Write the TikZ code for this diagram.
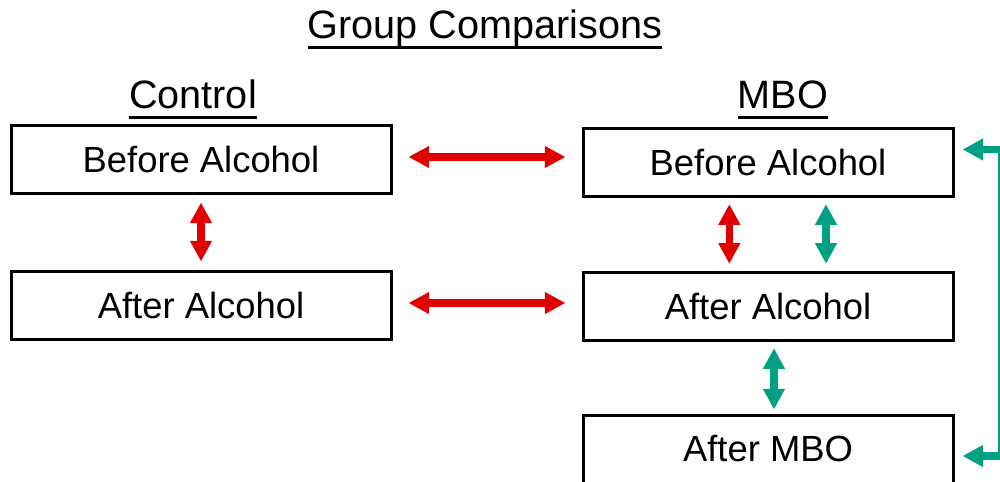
\documentclass[tikz,border=0pt]{standalone}
\usepackage{fontspec}
\setmainfont{Liberation Sans}
\usepackage{xcolor}
\definecolor{arrred}{HTML}{E00000}
\definecolor{arrteal}{HTML}{00A084}
\usepackage{tikz}
\usetikzlibrary{arrows.meta,positioning,calc}
\newcommand{\hdr}[1]{\setbox0\hbox{#1}\rlap{\rule[-7.9pt]{\wd0}{2.25pt}}\box0}
\tikzset{
  >={Triangle[length=15.5pt,width=15.5pt]},
  stage/.style  ={draw=black,line width=2.25pt,fill=white,
                  font=\fontsize{27.3}{32}\selectfont,
                  minimum height=51pt,align=center,inner sep=0pt},
  head/.style   ={font=\fontsize{29.7}{34}\selectfont,anchor=base,inner sep=0pt},
  redarr/.style ={<->,draw=arrred,line width=5.5pt},
  tealarr/.style={<->,draw=arrteal,line width=5.5pt},
}

\begin{document}
\begin{tikzpicture}[x=0.75pt,y=-0.75pt]
\clip (0,0) rectangle (1000,482);
% ---- headings
\node[head] (title) at (485,38) {\hdr{Group Comparisons}};
\node[head] (hctl) at (193,108) {\hdr{Control}};
\node[head] (hmbo) at (783,108) {\hdr{MBO}};

% ---- control column
\node[stage,minimum width=285pt] (cb) at (201,159) {Before Alcohol};
\node[stage,minimum width=285pt] (ca) at (201,305) {After Alcohol};

% ---- MBO column
\node[stage,minimum width=277.5pt] (mb) at (768,162) {Before Alcohol};
\node[stage,minimum width=277.5pt] (ma) at (768,306) {After Alcohol};
\node[stage,minimum width=277.5pt] (mo) at (768,449) {After MBO};

% ---- comparisons
\draw[redarr,shorten <=12pt,shorten >=12pt] ([yshift=1.5pt]cb.east) -- ([yshift=1.5pt]cb.east -| mb.west);
\draw[redarr,shorten <=12pt,shorten >=12pt] ([yshift=1.5pt]ca.east) -- ([yshift=1.5pt]ca.east -| ma.west);
\draw[redarr,shorten <=6pt,shorten >=6pt] (cb) -- (ca);
\draw[redarr,shorten <=5pt,shorten >=5pt] ([xshift=-29pt]mb.south) -- ([xshift=-29pt]ma.north);
\draw[tealarr,shorten <=5pt,shorten >=5pt] ([xshift=43.5pt]mb.south) -- ([xshift=43.5pt]ma.north);
\draw[tealarr,shorten <=5pt,shorten >=3pt] ([xshift=4.5pt]ma.south) -- ([xshift=4.5pt]mo.north);
\coordinate (rside) at (1002,300);
\draw[tealarr,shorten <=6pt,shorten >=6pt] ([yshift=9.4pt]mb.east) -| (rside) |- ([yshift=-5.25pt]mo.east);
\end{tikzpicture}
\end{document}
